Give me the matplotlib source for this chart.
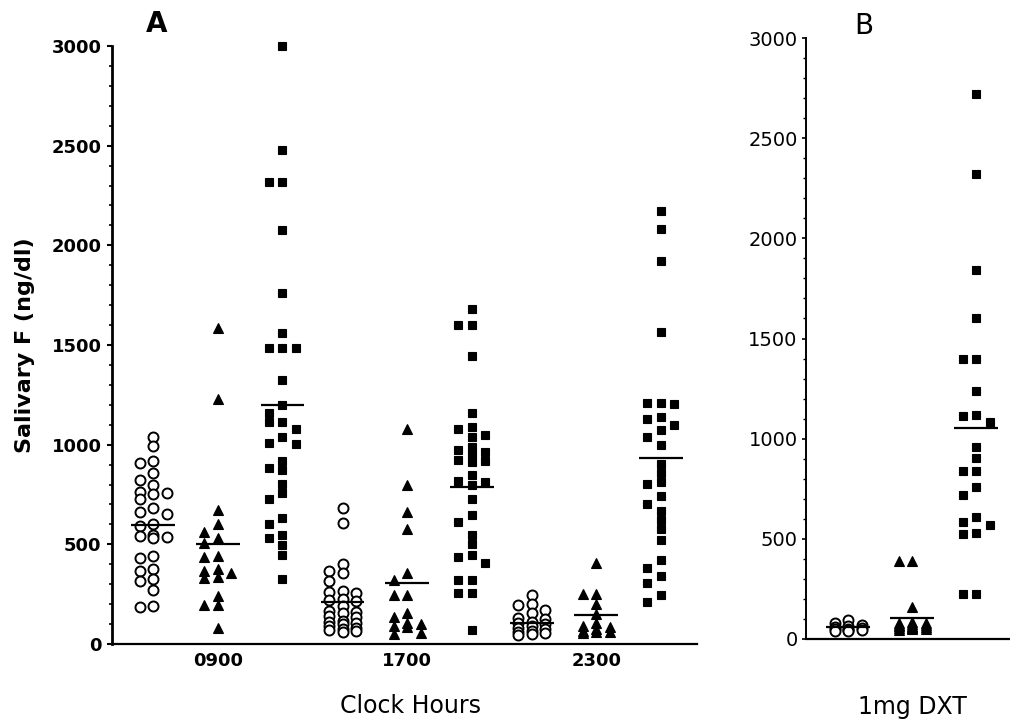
import numpy as np
import matplotlib
matplotlib.use("Agg")
import matplotlib.pyplot as plt
from matplotlib.ticker import MultipleLocator

# ---- Panel A: salivary F (ng/dl) at three clock hours, three subject groups ----
hours = ["0900", "1700", "2300"]

# open circles
grp1_0900 = [1040, 995, 920, 910, 860, 825, 800, 765, 760, 755, 725, 680, 660, 650,
             600, 590, 545, 540, 535, 530, 440, 430, 375, 365, 325, 315, 270, 190, 185]
grp1_1700 = [680, 605, 400, 365, 355, 315, 265, 260, 255, 225, 220, 215, 190, 165,
             160, 155, 140, 135, 115, 110, 105, 100, 90, 80, 75, 70, 65, 60]
grp1_2300 = [245, 200, 195, 170, 155, 130, 125, 110, 105, 100, 90, 80, 75, 65, 60,
             55, 50, 45]

# filled triangles
grp2_0900 = [1585, 1230, 670, 600, 560, 530, 505, 440, 435, 375, 365, 355, 335, 330,
             240, 195, 195, 80]
grp2_1700 = [1080, 800, 660, 575, 355, 320, 245, 245, 155, 135, 105, 100, 90, 85, 55, 50]
grp2_2300 = [405, 250, 250, 200, 150, 105, 90, 85, 75, 65, 60, 60, 55]

# filled squares
grp3_0900 = [3000, 2480, 2320, 2320, 2075, 1760, 1560, 1485, 1485, 1485, 1325, 1200,
             1160, 1115, 1115, 1080, 1040, 1010, 1005, 920, 885, 875, 805, 760, 725,
             630, 600, 545, 530, 495, 445, 325]
grp3_1700 = [1680, 1600, 1600, 1445, 1160, 1090, 1080, 1050, 1040, 990, 975, 965, 955,
             925, 920, 915, 850, 820, 815, 800, 725, 645, 610, 545, 500, 445, 435, 405,
             320, 320, 255, 255, 70]
grp3_2300 = [2170, 2080, 1920, 1565, 1210, 1210, 1205, 1140, 1130, 1100, 1075, 1040,
             1000, 905, 860, 815, 805, 740, 700, 665, 620, 575, 520, 420, 380, 340, 305,
             245, 210]

# group means drawn as horizontal bars
means_0900 = [597, 500, 1200]
means_1700 = [212, 308, 789]
means_2300 = [107, 146, 933]

# ---- Panel B: after 1 mg dexamethasone ----
grp1_dxt = [95, 80, 70, 65, 60, 55, 50, 50, 45, 45, 40, 40]
grp2_dxt = [390, 390, 160, 85, 80, 80, 75, 70, 70, 65, 65, 60, 60, 55, 55, 50, 50, 45]
grp3_dxt = [2720, 2320, 1840, 1600, 1400, 1400, 1240, 1120, 1115, 1085, 960, 905, 840,
            840, 760, 720, 610, 585, 570, 530, 525, 225, 225]
means_dxt = [61, 103, 1052]

styles = [
    dict(marker="o", mfc="white", mec="black", ms=7.2, mew=1.4),
    dict(marker="^", mfc="black", mec="black", ms=6.5, mew=0.8),
    dict(marker="s", mfc="black", mec="black", ms=6.3, mew=0.8),
]


def column_offsets(values, min_gap, step):
    """Spread close values over three side-by-side columns (column scatter)."""
    values = np.asarray(values, dtype=float)
    offs = np.zeros(len(values))
    placed = []
    for i in np.argsort(-values, kind="stable"):
        v = values[i]
        best, best_gap = 0.0, -1.0
        for c in (0.0, -step, step):
            gaps = [abs(v - pv) for pv, pc in placed if pc == c]
            gap = min(gaps) if gaps else np.inf
            if gap >= min_gap:
                best = c
                break
            if gap > best_gap:
                best_gap, best = gap, c
        offs[i] = best
        placed.append((v, best))
    return offs


def draw_group(ax, center, values, mean, style):
    offs = column_offsets(values, min_gap=42, step=0.21)
    ax.plot(center + offs, values, ls="none", clip_on=False, zorder=3, **style)
    ax.hlines(mean, center - 0.34, center + 0.34, color="black", lw=1.6, zorder=4)


fig = plt.figure(figsize=(10.10, 7.24), dpi=100)

# ---------------- Panel A ----------------
axA = fig.add_axes([112 / 1010, 80 / 724, 585 / 1010, 598 / 724])
hour_pos = np.arange(3) * 2.93
data_A = [
    (grp1_0900, grp2_0900, grp3_0900, means_0900),
    (grp1_1700, grp2_1700, grp3_1700, means_1700),
    (grp1_2300, grp2_2300, grp3_2300, means_2300),
]
for hp, (g1, g2, g3, mns) in zip(hour_pos, data_A):
    for k, (vals, st) in enumerate(zip((g1, g2, g3), styles)):
        draw_group(axA, hp + (k - 1) * 1.0, vals, mns[k], st)

axA.set_xlim(-1.64, 7.42)
axA.set_ylim(0, 3000)
axA.yaxis.set_major_locator(MultipleLocator(500))
axA.yaxis.set_minor_locator(MultipleLocator(100))
axA.set_xticks(hour_pos)
axA.set_xticklabels(hours, fontsize=13, fontweight="bold")
axA.tick_params(axis="x", length=0, pad=6)
axA.tick_params(axis="y", which="major", length=3.5, width=1.5, pad=4, labelsize=13)
axA.tick_params(axis="y", which="minor", length=2, width=1.2)
for lab in axA.get_yticklabels():
    lab.set_fontweight("bold")
for s in ("top", "right"):
    axA.spines[s].set_visible(False)
axA.spines["left"].set_linewidth(2.0)
axA.spines["bottom"].set_linewidth(1.6)
axA.set_ylabel("Salivary F (ng/dl)", fontsize=16, fontweight="bold", labelpad=12)

# ---------------- Panel B ----------------
axB = fig.add_axes([806 / 1010, 85 / 724, 204 / 1010, 601 / 724])
for k, (vals, st) in enumerate(zip((grp1_dxt, grp2_dxt, grp3_dxt), styles)):
    draw_group(axB, (k - 1) * 1.0, vals, means_dxt[k], st)
axB.set_xlim(-1.66, 1.53)
axB.set_ylim(0, 3000)
axB.yaxis.set_major_locator(MultipleLocator(500))
axB.yaxis.set_minor_locator(MultipleLocator(100))
axB.set_xticks([])
axB.tick_params(axis="y", which="major", length=3, width=1.2, pad=3, labelsize=14)
axB.tick_params(axis="y", which="minor", length=2, width=1.0)
for s in ("top", "right"):
    axB.spines[s].set_visible(False)
axB.spines["left"].set_linewidth(1.4)
axB.spines["bottom"].set_linewidth(1.6)

# panel letters and axis captions
fig.text(157 / 1010, 1 - 24 / 724, "A", ha="center", va="center",
         fontsize=20, fontweight="bold")
fig.text(864 / 1010, 1 - 26 / 724, "B", ha="center", va="center", fontsize=20)
fig.text(410 / 1010, 1 - 706 / 724, "Clock Hours", ha="center", va="center", fontsize=17)
fig.text(912 / 1010, 1 - 707 / 724, "1mg DXT", ha="center", va="center", fontsize=17)

fig.savefig("out.png", dpi=100)
